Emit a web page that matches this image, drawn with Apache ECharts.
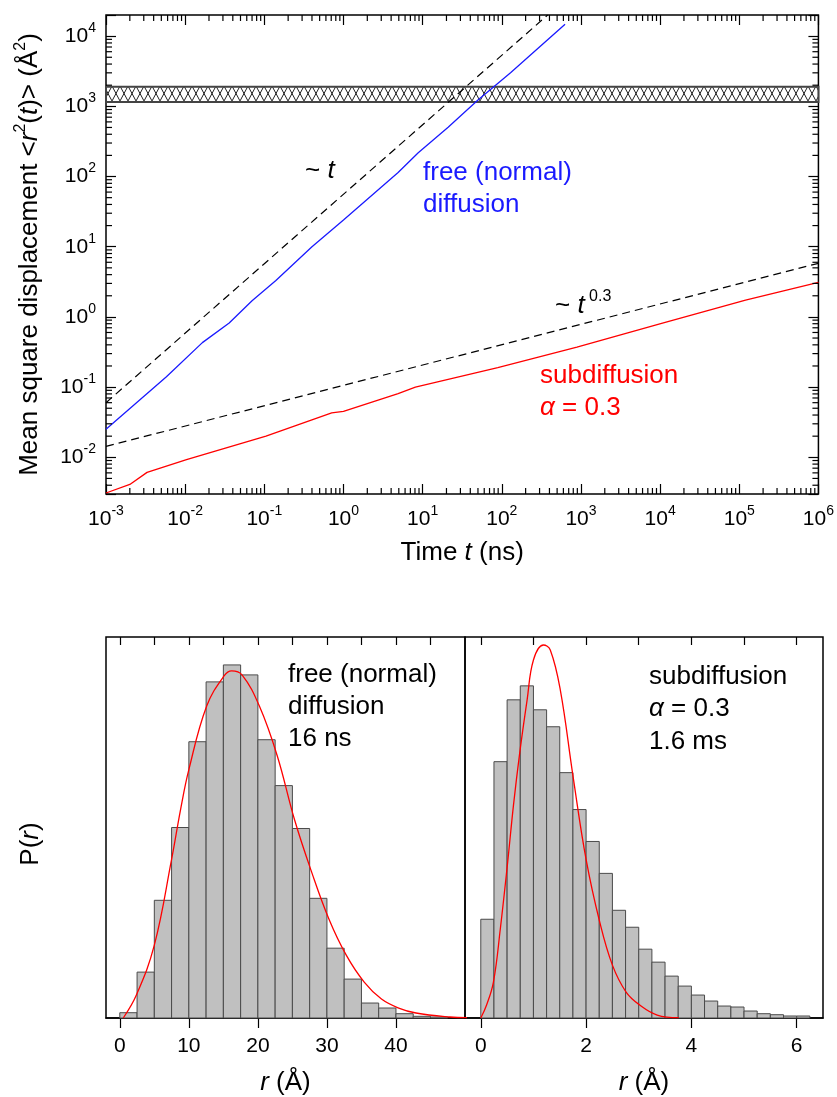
<!DOCTYPE html>
<html><head><meta charset="utf-8">
<script src="https://cdn.jsdelivr.net/npm/echarts@6/dist/echarts.min.js"></script>
<style>html,body{margin:0;padding:0;background:#fff}#c{width:837px;height:1097px}</style>
</head><body><div id="c"></div>
<script>
const FONT = '"Liberation Sans", Arial, Helvetica, sans-serif';

// ---------- top panel: mean square displacement ----------
const freeT   = [0.001, 0.0058, 0.0165, 0.036, 0.07, 0.14, 0.40, 1.0, 4.9, 8.8, 21, 50, 129, 630];
const freeMSD = [0.025, 0.14, 0.43, 0.82, 1.7, 3.3, 10, 24, 114, 218, 505, 1230, 3000, 14800];
const subT    = [0.001, 0.002, 0.0033, 0.0104, 0.105, 0.71, 1.0, 4.9, 8.1, 89, 890, 11000, 120000, 1000000];
const subMSD  = [0.0031, 0.0041, 0.0061, 0.0093, 0.020, 0.043, 0.045, 0.081, 0.10, 0.19, 0.37, 0.82, 1.74, 3.1];
const linT    = [0.001, 380];
const linMSD  = [0.06, 20000];
const powT    = [0.001, 1000000];
const powMSD  = [0.0143, 5.8];
const bandRange = [1150, 1900];
const xRange = [0.001, 1000000];
const yRange = [0.003, 20000];
const minorMultipliers = [2, 3, 4, 5, 6, 7, 8, 9];
const xDecadeExps = [-3, -2, -1, 0, 1, 2, 3, 4, 5];
const yDecadeExps = [-3, -2, -1, 0, 1, 2, 3, 4];

// ---------- bottom panels: histograms ----------
const freeBinStart = [0, 2.5, 5, 7.5, 10, 12.5, 15, 17.5, 20, 22.5, 25, 27.5, 30, 32.5, 35, 37.5, 40, 42.5, 45];
const freeBinWidth = 2.5;
const freeCounts   = [5.3, 46, 118, 191, 277, 337, 354, 344, 279, 233, 190, 120, 70, 39, 15, 10, 4.3, 1.7, 1];
const freeFitR = [0.5, 2.4, 5, 7.5, 8.8, 10, 12.6, 15.1, 16.2, 17.7, 20.2, 22.8, 25.3, 27.8, 30.3, 32.8, 35.4, 37.9, 40.4, 42.9, 47.8, 50.5];
const freeFitP = [0, 23, 73, 159, 209, 249, 313, 343, 348, 344, 313, 263, 199, 146, 99, 63, 36, 19, 10, 5, 1, 0.3];
const subBinStart = [0, 0.25, 0.5, 0.75, 1.0, 1.25, 1.5, 1.75, 2.0, 2.25, 2.5, 2.75, 3.0, 3.25, 3.5, 3.75, 4.0, 4.25, 4.5, 4.75, 5.0, 5.25, 5.5, 5.75, 6.0];
const subBinWidth = 0.25;
const subCounts   = [99, 257, 319, 333, 309, 292, 246, 209, 177, 145, 108, 91, 69, 56, 42, 32, 23, 17, 12, 11, 7, 4.3, 3.3, 2, 2];
const subFitR = [0, 0.11, 0.24, 0.37, 0.51, 0.62, 0.74, 0.88, 1.0, 1.19, 1.32, 1.51, 1.75, 2.0, 2.26, 2.5, 2.76, 3.02, 3.35, 3.76];
const subFitP = [0, 13, 36, 89, 156, 213, 266, 319, 359, 374, 369, 329, 243, 159, 96, 53, 26, 13, 3, 0.3];
const freeTopTicks = [0, 5, 10, 15, 20, 25, 30, 35, 40, 45];
const freeBottomTicks = [0, 10, 20, 30, 40];
const subTopTicks = [0, 1, 2, 3, 4, 5, 6];
const subBottomTicks = [0, 2, 4, 6];

const xMinor = [];
xDecadeExps.forEach(e => minorMultipliers.forEach(m => xMinor.push(m * Math.pow(10, e))));
const yMinor = [];
yDecadeExps.forEach(e => minorMultipliers.forEach(m => { const v = m * Math.pow(10, e); if (v > yRange[0] && v < yRange[1]) yMinor.push(v); }));

const zip = (a, b) => a.map((v, i) => [v, b[i]]);
const bins = (s, w, c) => s.map((v, i) => [v, v + w, c[i]]);

function logLabel(v) {
  const e = Math.log10(v), r = Math.round(e);
  if (Math.abs(e - r) > 1e-6) return '';
  return '{b|10}{s|' + r + '}';
}
const logRich = {
  b: { fontSize: 21, lineHeight: 30, fontFamily: FONT, color: '#000' },
  s: { fontSize: 14, lineHeight: 14, verticalAlign: 'top', fontFamily: FONT, color: '#000' }
};

function renderMinor(params, api) {
  if (params.dataIndex !== 0) return;
  const cs = params.coordSys;
  const L = cs.x, R = cs.x + cs.width, T = cs.y, B = cs.y + cs.height;
  const st = { stroke: '#000', lineWidth: 1.2 };
  const ch = [];
  xMinor.forEach(v => {
    const px = api.coord([v, yRange[0]])[0];
    ch.push({ type: 'line', shape: { x1: px, y1: B, x2: px, y2: B - 6 }, style: st });
    ch.push({ type: 'line', shape: { x1: px, y1: T, x2: px, y2: T + 6 }, style: st });
  });
  yMinor.forEach(v => {
    const py = api.coord([xRange[0], v])[1];
    ch.push({ type: 'line', shape: { x1: L, y1: py, x2: L + 6, y2: py }, style: st });
    ch.push({ type: 'line', shape: { x1: R, y1: py, x2: R - 6, y2: py }, style: st });
  });
  return { type: 'group', children: ch };
}

function renderHist(params, api) {
  const p0 = api.coord([api.value(0), 0]);
  const p1 = api.coord([api.value(1), api.value(2)]);
  return { type: 'rect', shape: { x: p0[0], y: p1[1], width: p1[0] - p0[0], height: p0[1] - p1[1] },
           style: { fill: '#c0c0c0', stroke: '#4a4a4a', lineWidth: 1 } };
}

function makeHatch() {
  const c = document.createElement('canvas');
  c.width = 8; c.height = 15;
  const g = c.getContext('2d');
  g.fillStyle = '#fff'; g.fillRect(0, 0, 8, 15);
  g.strokeStyle = '#222'; g.lineWidth = 1;
  g.beginPath(); g.moveTo(0, 0); g.lineTo(8, 15); g.moveTo(8, 0); g.lineTo(0, 15); g.stroke();
  return c;
}

const italicRich = { i: { fontStyle: 'italic', fontSize: 26, fontFamily: FONT, color: '#000' },
                     s: { fontSize: 16, lineHeight: 16, verticalAlign: 'top', fontFamily: FONT, color: '#000' } };

function label(x, y, text, color, extra) {
  return Object.assign({ type: 'text', x: x, y: y, z: 100,
    style: { text: text, fill: color, fontSize: 26, fontFamily: FONT, align: 'left', verticalAlign: 'middle',
      rich: { i: { fontStyle: 'italic', fontSize: 26, fontFamily: FONT, fill: color },
              s: { fontSize: 16, fontFamily: FONT, fill: color, verticalAlign: 'top', lineHeight: 16 },
              b: { fontSize: 26, fontFamily: FONT, fill: color, lineHeight: 34 } } } }, extra || {});
}

const logTopAxisCommon = {
  type: 'log', logBase: 10, splitLine: { show: false }, axisLine: { show: false },
  axisTick: { show: true, inside: true, length: 10, lineStyle: { color: '#000', width: 1.2 } }
};

const chart = echarts.init(document.getElementById('c'), null, { renderer: 'canvas' });
chart.setOption({
  animation: false,
  backgroundColor: '#fff',
  grid: [
    { left: 106, top: 15, width: 716, height: 479, show: true, borderColor: '#000', borderWidth: 1.5, backgroundColor: 'transparent' },
    { left: 106, top: 637, width: 359, height: 382, show: true, borderColor: '#000', borderWidth: 1.5, backgroundColor: 'transparent' },
    { left: 465, top: 637, width: 358, height: 382, show: true, borderColor: '#000', borderWidth: 1.5, backgroundColor: 'transparent' }
  ],
  xAxis: [
    Object.assign({}, logTopAxisCommon, { gridIndex: 0, position: 'bottom', min: xRange[0], max: xRange[1],
      axisLabel: { formatter: logLabel, rich: logRich, margin: 10 },
      name: 'Time {i|t} (ns)', nameLocation: 'middle', nameGap: 46,
      nameTextStyle: { fontSize: 26, fontFamily: FONT, color: '#000', rich: italicRich } }),
    Object.assign({}, logTopAxisCommon, { gridIndex: 0, position: 'top', min: xRange[0], max: xRange[1], axisLabel: { show: false } }),
    { type: 'value', gridIndex: 1, position: 'bottom', min: -2, max: 50, splitLine: { show: false },
      axisLine: { show: true, lineStyle: { color: '#000', width: 1.5 } },
      axisTick: { show: true, inside: false, length: 10, customValues: freeBottomTicks, lineStyle: { color: '#000', width: 1.2 } },
      axisLabel: { customValues: freeBottomTicks, fontSize: 21, fontFamily: FONT, color: '#000', margin: 18 },
      name: '{i|r} (Å)', nameLocation: 'middle', nameGap: 52,
      nameTextStyle: { fontSize: 26, fontFamily: FONT, color: '#000', rich: italicRich } },
    { type: 'value', gridIndex: 1, position: 'top', min: -2, max: 50, splitLine: { show: false }, axisLine: { show: false },
      axisTick: { show: true, inside: true, length: 8, customValues: freeTopTicks, lineStyle: { color: '#000', width: 1.2 } },
      axisLabel: { show: false } },
    { type: 'value', gridIndex: 2, position: 'bottom', min: -0.3, max: 6.5, splitLine: { show: false },
      axisLine: { show: true, lineStyle: { color: '#000', width: 1.5 } },
      axisTick: { show: true, inside: false, length: 10, customValues: subBottomTicks, lineStyle: { color: '#000', width: 1.2 } },
      axisLabel: { customValues: subBottomTicks, fontSize: 21, fontFamily: FONT, color: '#000', margin: 18 },
      name: '{i|r} (Å)', nameLocation: 'middle', nameGap: 52,
      nameTextStyle: { fontSize: 26, fontFamily: FONT, color: '#000', rich: italicRich } },
    { type: 'value', gridIndex: 2, position: 'top', min: -0.3, max: 6.5, splitLine: { show: false }, axisLine: { show: false },
      axisTick: { show: true, inside: true, length: 8, customValues: subTopTicks, lineStyle: { color: '#000', width: 1.2 } },
      axisLabel: { show: false } }
  ],
  yAxis: [
    Object.assign({}, logTopAxisCommon, { gridIndex: 0, position: 'left', min: yRange[0], max: yRange[1],
      axisLabel: { formatter: logLabel, rich: logRich, margin: 10 },
      name: 'Mean square displacement <{i|r}{s|2}({i|t})> (Å{s|2})', nameLocation: 'middle', nameGap: 59, nameRotate: 90,
      nameTextStyle: { fontSize: 26, lineHeight: 34, fontFamily: FONT, color: '#000', rich: italicRich } }),
    Object.assign({}, logTopAxisCommon, { gridIndex: 0, position: 'right', min: yRange[0], max: yRange[1], axisLabel: { show: false } }),
    { type: 'value', gridIndex: 1, min: 0, max: 382, show: false },
    { type: 'value', gridIndex: 2, min: 0, max: 382, show: false }
  ],
  graphic: [
    label(305, 171, '~ {i|t}', '#000'),
    label(423, 173, 'free (normal)', '#1a1aff'),
    label(423, 205, 'diffusion', '#1a1aff'),
    label(555, 306, '{b|~ }{i|t}{s| 0.3}', '#000', {}),
    label(540, 376, 'subdiffusion', '#ff0000'),
    label(540, 408, '{i|α} = 0.3', '#ff0000'),
    label(288, 675, 'free (normal)', '#000'),
    label(288, 707, 'diffusion', '#000'),
    label(288, 739, '16 ns', '#000'),
    label(649, 677, 'subdiffusion', '#000'),
    label(649, 709, '{i|α} = 0.3', '#000'),
    label(649, 742, '1.6 ms', '#000'),
    { type: 'text', x: 31, y: 844, rotation: Math.PI / 2, z: 100,
      style: { text: 'P({i|r})', fill: '#000', fontSize: 26, fontFamily: FONT, align: 'center', verticalAlign: 'middle',
        rich: { i: { fontStyle: 'italic', fontSize: 26, fontFamily: FONT, fill: '#000' } } } }
  ],
  series: [
    { type: 'line', xAxisIndex: 0, yAxisIndex: 0, data: [], z: 1, silent: true,
      markArea: { silent: true, itemStyle: { color: { image: makeHatch(), repeat: 'repeat', x: 0, y: 86 }, borderColor: '#444', borderWidth: 2 },
        data: [[{ yAxis: bandRange[0] }, { yAxis: bandRange[1] }]] } },
    { type: 'line', name: '~t', xAxisIndex: 0, yAxisIndex: 0, data: zip(linT, linMSD), symbol: 'none', z: 3,
      lineStyle: { color: '#000', width: 1.2, type: [8, 5] } },
    { type: 'line', name: '~t^0.3', xAxisIndex: 0, yAxisIndex: 0, data: zip(powT, powMSD), symbol: 'none', z: 3,
      lineStyle: { color: '#000', width: 1.2, type: [8, 5] } },
    { type: 'line', name: 'free', xAxisIndex: 0, yAxisIndex: 0, data: zip(freeT, freeMSD), symbol: 'none', z: 4,
      lineStyle: { color: '#1a1aff', width: 1.3 } },
    { type: 'line', name: 'sub', xAxisIndex: 0, yAxisIndex: 0, data: zip(subT, subMSD), symbol: 'none', z: 4,
      lineStyle: { color: '#ff0000', width: 1.3 } },
    { type: 'custom', xAxisIndex: 0, yAxisIndex: 0, data: [[1, 1]], renderItem: renderMinor, z: 6, silent: true, clip: false },
    { type: 'custom', xAxisIndex: 2, yAxisIndex: 2, data: bins(freeBinStart, freeBinWidth, freeCounts), renderItem: renderHist,
      encode: { x: [0, 1], y: 2 }, z: 2 },
    { type: 'custom', xAxisIndex: 4, yAxisIndex: 3, data: bins(subBinStart, subBinWidth, subCounts), renderItem: renderHist,
      encode: { x: [0, 1], y: 2 }, z: 2 },
    { type: 'line', xAxisIndex: 2, yAxisIndex: 2, data: zip(freeFitR, freeFitP), symbol: 'none', smooth: 0.4, z: 4,
      lineStyle: { color: '#ff0000', width: 1.3 } },
    { type: 'line', xAxisIndex: 4, yAxisIndex: 3, data: zip(subFitR, subFitP), symbol: 'none', smooth: 0.4, z: 4,
      lineStyle: { color: '#ff0000', width: 1.3 } }
  ]
});
</script></body></html>
